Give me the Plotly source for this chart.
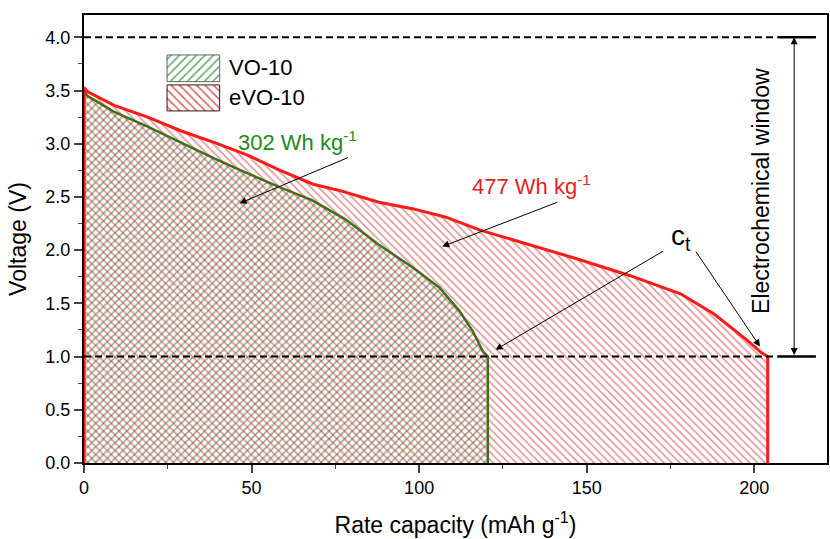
import plotly.graph_objects as go

# VO-10 discharge curve (capacity mAh/g, voltage V)
vo_cap = [0, 0, 1, 9, 19, 29, 39, 49, 58.5, 68, 78, 88, 98, 106, 112, 116, 119, 120.5, 120.5]
vo_volt = [0, 3.50, 3.45, 3.30, 3.16, 3.01, 2.86, 2.72, 2.59, 2.47, 2.29, 2.05, 1.84, 1.65, 1.43, 1.24, 1.05, 1.0, 0]

# eVO-10 discharge curve
evo_cap = [0, 0, 1, 9, 19, 29, 39, 49, 58.5, 68.4, 76.4, 88, 98, 108, 118, 130, 147, 163, 178, 188, 198, 202, 204, 204]
evo_volt = [0, 3.53, 3.49, 3.36, 3.25, 3.12, 3.01, 2.89, 2.75, 2.62, 2.56, 2.45, 2.39, 2.31, 2.19, 2.08, 1.92, 1.76, 1.59, 1.40, 1.15, 1.04, 1.0, 0]

series_names = ["VO-10", "eVO-10"]
x_ticks = [0, 50, 100, 150, 200]
y_ticks = [0.0, 0.5, 1.0, 1.5, 2.0, 2.5, 3.0, 3.5, 4.0]
window_top = 4.0
window_bottom = 1.0
energy_labels = ["302 Wh kg<sup>-1</sup>", "477 Wh kg<sup>-1</sup>"]

FONT = "Liberation Sans, Arial, sans-serif"
GREEN = "#2b7a1c"
RED = "#ff1a1a"

fig = go.Figure()
fig.add_trace(go.Scatter(
    x=vo_cap, y=vo_volt, name=series_names[0], mode="lines", fill="toself",
    line=dict(color=GREEN, width=2.5), showlegend=False,
    fillcolor="rgba(0,0,0,0)",
    fillpattern=dict(shape="/", fgcolor="rgba(35,90,25,0.95)", bgcolor="rgba(0,0,0,0)",
                     size=5.5, solidity=0.3, fillmode="overlay"),
))
fig.add_trace(go.Scatter(
    x=evo_cap, y=evo_volt, name=series_names[1], mode="lines", fill="toself",
    line=dict(color=RED, width=3), showlegend=False,
    fillcolor="rgba(0,0,0,0)",
    fillpattern=dict(shape="\\", fgcolor="rgba(195,35,35,0.95)", bgcolor="rgba(0,0,0,0)",
                     size=5.5, solidity=0.3, fillmode="overlay"),
))

# legend swatches drawn on an overlay axis in paper-like units
sw = [((0.1118, 0.1826), (0.8512, 0.9108), "/", "rgba(90,160,90,0.95)", "#556b55"),
      ((0.1118, 0.1826), (0.7859, 0.8439), "\\", "rgba(210,80,80,0.95)", "#3a1010")]
for (x0, x1), (y0, y1), shp, fg, border in sw:
    fig.add_trace(go.Scatter(
        x=[x0, x1, x1, x0, x0], y=[y0, y0, y1, y1, y0], xaxis="x2", yaxis="y2",
        mode="lines", fill="toself", line=dict(color=border, width=1), showlegend=False,
        hoverinfo="skip", fillcolor="rgba(0,0,0,0)",
        fillpattern=dict(shape=shp, fgcolor=fg, bgcolor="white", size=6, solidity=0.25, fillmode="replace"),
    ))

# dashed window lines
for yv in [window_top, window_bottom]:
    fig.add_shape(type="line", x0=0, x1=207, y0=yv, y1=yv, xref="x", yref="y",
                  line=dict(color="black", width=2, dash="7px,4px"), layer="above")
    fig.add_shape(type="line", x0=207, x1=218.4, y0=yv, y1=yv, xref="x", yref="y",
                  line=dict(color="black", width=2.5), layer="above")

arrow = dict(showarrow=True, arrowhead=2, arrowsize=1.4, arrowwidth=1, arrowcolor="black",
             xref="x", yref="y", axref="x", ayref="y", text="")
ann = []
ann.append(dict(x=211.9, y=window_top, ax=211.9, ay=window_bottom, arrowside="end+start", **arrow))
ann.append(dict(x=201.8, y=2.56, xref="x", yref="y", text="Electrochemical window",
                textangle=-90, showarrow=False, font=dict(family=FONT, size=23, color="black")))
ann.append(dict(x=63.7, y=3.03, xref="x", yref="y", text=energy_labels[0],
                showarrow=False, font=dict(family=FONT, size=22, color="#1e8a1e")))
ann.append(dict(x=46.4, y=2.44, ax=79.2, ay=2.876, **arrow))
ann.append(dict(x=133.6, y=2.61, xref="x", yref="y", text=energy_labels[1],
                showarrow=False, font=dict(family=FONT, size=22, color="#e81e1e")))
ann.append(dict(x=106.9, y=2.034, ax=141.7, ay=2.456, **arrow))
ann.append(dict(x=178.2, y=2.12, xref="x", yref="y", text="c<sub>t</sub>",
                showarrow=False, font=dict(family=FONT, size=28, color="black")))
ann.append(dict(x=122.8, y=1.064, ax=173.3, ay=2.0, **arrow))
ann.append(dict(x=201.7, y=1.095, ax=182.3, ay=2.0, **arrow))
# legend labels
ann.append(dict(x=0.1929, y=0.882, xref="paper", yref="paper", xanchor="left", yanchor="middle",
                text=series_names[0], showarrow=False, font=dict(family=FONT, size=22, color="black")))
ann.append(dict(x=0.1929, y=0.815, xref="paper", yref="paper", xanchor="left", yanchor="middle",
                text=series_names[1], showarrow=False, font=dict(family=FONT, size=22, color="black")))

fig.update_layout(
    width=830, height=539,
    margin=dict(l=84, r=1, t=15, b=76),
    plot_bgcolor="white", paper_bgcolor="white",
    font=dict(family=FONT, size=18, color="black"),
    showlegend=False,
    annotations=ann,
    xaxis=dict(
        range=[0, 221.7], tickvals=x_ticks, ticks="outside", ticklen=8, tickwidth=1.5,
        showline=True, linecolor="black", linewidth=2, mirror=True, showgrid=False, zeroline=False,
        minor=dict(ticks="outside", ticklen=4, dtick=25, tick0=0, tickwidth=1.2, showgrid=False),
        title=dict(text="Rate capacity (mAh g<sup>-1</sup>)", font=dict(family=FONT, size=23), standoff=20),
        tickfont=dict(size=18), ticklabelstandoff=-1,
    ),
    yaxis=dict(
        range=[0, 4.21], tickvals=y_ticks, ticktext=[f"{v:.1f}" for v in y_ticks],
        ticks="outside", ticklen=8, tickwidth=1.5,
        showline=True, linecolor="black", linewidth=2, mirror=True, showgrid=False, zeroline=False,
        minor=dict(ticks="outside", ticklen=4, dtick=0.25, tick0=0, tickwidth=1.2, showgrid=False),
        title=dict(text="Voltage (V)", font=dict(family=FONT, size=23), standoff=12),
        tickfont=dict(size=18),
    ),
    xaxis2=dict(range=[0, 1], overlaying="x", visible=False, domain=[0, 1]),
    yaxis2=dict(range=[0, 1], overlaying="y", visible=False, domain=[0, 1]),
)

fig.write_html("out.html")
